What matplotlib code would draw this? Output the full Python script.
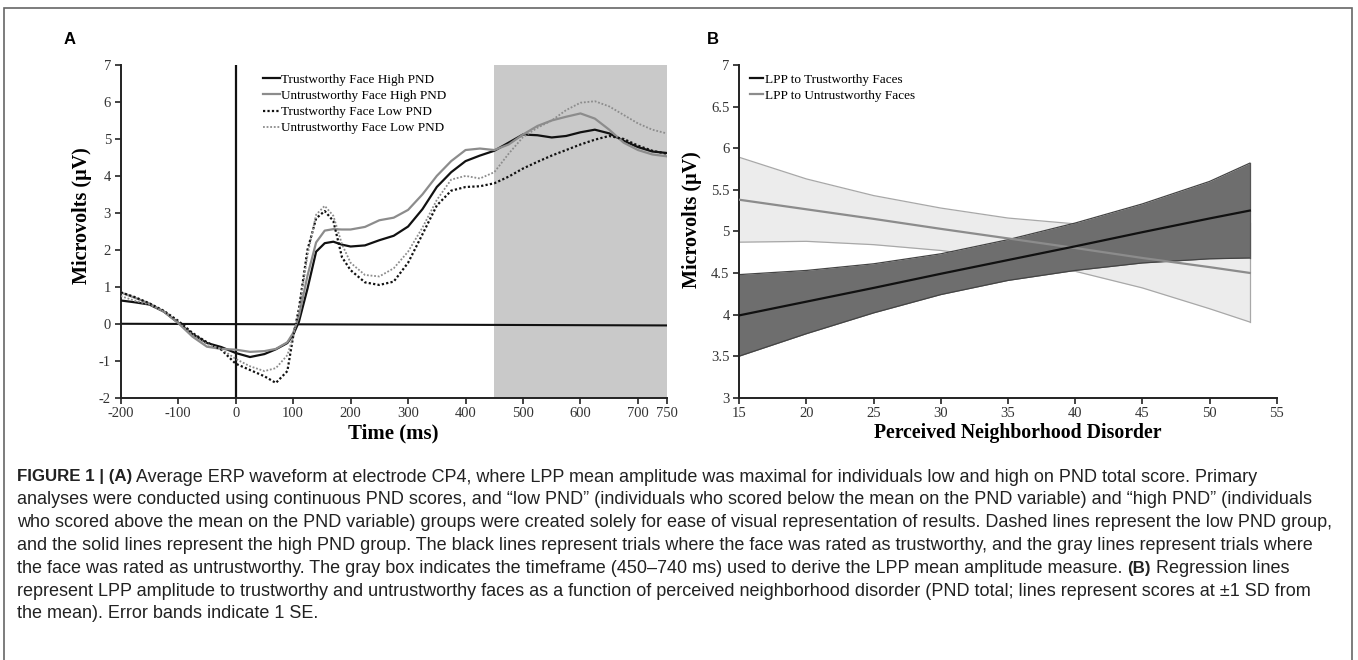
import matplotlib
matplotlib.use("Agg")
import matplotlib.pyplot as plt
from matplotlib.patches import Rectangle

plt.rcParams['axes.unicode_minus'] = False
SERIF = "Liberation Serif"
SANS = "Liberation Sans"

# ---------------- Panel A data (ERP waveforms) ----------------
time_ms = [-200, -175, -150, -125, -100, -75, -50, -25, 0, 25, 50, 70, 90, 100, 110,
           125, 140, 155, 170, 185, 200, 225, 250, 275, 300, 325, 350, 375, 400, 425,
           450, 475, 500, 525, 550, 575, 600, 625, 650, 675, 700, 725, 750]

trust_high = [0.63, 0.58, 0.52, 0.33, 0.03, -0.28, -0.52, -0.63, -0.79, -0.90, -0.82, -0.69, -0.52, -0.30, 0.05,
              0.95, 1.95, 2.18, 2.22, 2.14, 2.09, 2.12, 2.26, 2.38, 2.63, 3.10, 3.70, 4.10, 4.40, 4.55,
              4.68, 4.90, 5.12, 5.10, 5.04, 5.08, 5.18, 5.25, 5.15, 4.95, 4.78, 4.66, 4.62]

untrust_high = [0.85, 0.70, 0.55, 0.33, 0.02, -0.35, -0.62, -0.68, -0.70, -0.76, -0.74, -0.68, -0.50, -0.25, 0.20,
                1.30, 2.20, 2.52, 2.56, 2.55, 2.55, 2.62, 2.80, 2.87, 3.08, 3.50, 4.00, 4.40, 4.70, 4.74,
                4.70, 4.85, 5.12, 5.35, 5.50, 5.60, 5.69, 5.55, 5.25, 4.90, 4.70, 4.58, 4.53]

trust_low = [0.85, 0.72, 0.55, 0.35, 0.08, -0.25, -0.50, -0.70, -1.08, -1.25, -1.42, -1.60, -1.28, -0.35, 0.40,
             2.00, 2.85, 3.05, 2.78, 1.80, 1.45, 1.12, 1.05, 1.14, 1.65, 2.42, 3.20, 3.60, 3.70, 3.72,
             3.80, 3.98, 4.20, 4.38, 4.55, 4.70, 4.85, 4.98, 5.08, 5.00, 4.82, 4.68, 4.60]

untrust_low = [0.75, 0.62, 0.52, 0.33, 0.04, -0.30, -0.55, -0.68, -0.95, -1.15, -1.28, -1.20, -0.85, -0.35, 0.30,
               1.85, 2.95, 3.19, 2.92, 2.15, 1.65, 1.32, 1.28, 1.50, 1.95, 2.60, 3.35, 3.90, 4.00, 3.93,
               4.10, 4.60, 5.05, 5.30, 5.50, 5.78, 5.98, 6.02, 5.88, 5.65, 5.42, 5.25, 5.15]

series_labels_a = ["Trustworthy Face High PND", "Untrustworthy Face High PND",
                   "Trustworthy Face Low PND", "Untrustworthy Face Low PND"]
baseline_x = [-200, 750]
baseline_y = [0.0, -0.045]
lpp_window = [450, 750]
xticks_a = [-200, -100, 0, 100, 200, 300, 400, 500, 600, 700, 750]
yticks_a = [-2, -1, 0, 1, 2, 3, 4, 5, 6, 7]

# ---------------- Panel B data (regressions) ----------------
pnd = [15, 20, 25, 30, 35, 40, 45, 50, 53]
trust_fit = [3.99, 4.155, 4.32, 4.49, 4.655, 4.82, 4.99, 5.155, 5.25]
trust_upper = [4.48, 4.53, 4.61, 4.73, 4.90, 5.10, 5.33, 5.60, 5.82]
trust_lower = [3.50, 3.77, 4.02, 4.24, 4.41, 4.53, 4.62, 4.67, 4.68]
untrust_fit = [5.38, 5.265, 5.15, 5.03, 4.915, 4.80, 4.68, 4.57, 4.50]
untrust_upper = [5.89, 5.63, 5.43, 5.28, 5.16, 5.09, 5.08, 5.09, 5.10]
untrust_lower = [4.87, 4.88, 4.84, 4.77, 4.66, 4.52, 4.32, 4.07, 3.91]
series_labels_b = ["LPP to Trustworthy Faces", "LPP to Untrustworthy Faces"]
xticks_b = [15, 20, 25, 30, 35, 40, 45, 50, 55]
yticks_b = [3, 3.5, 4, 4.5, 5, 5.5, 6, 6.5, 7]
ytick_labels_b = ["3", "3.5", "4", "4.5", "5", "5.5", "6", "6.5", "7"]

caption_lines = [
    [("FIGURE 1 | (A)", True), (" Average ERP waveform at electrode CP4, where LPP mean amplitude was maximal for individuals low and high on PND total score. Primary", False)],
    [("analyses were conducted using continuous PND scores, and \u201clow PND\u201d (individuals who scored below the mean on the PND variable) and \u201chigh PND\u201d (individuals", False)],
    [("who scored above the mean on the PND variable) groups were created solely for ease of visual representation of results. Dashed lines represent the low PND group,", False)],
    [("and the solid lines represent the high PND group. The black lines represent trials where the face was rated as trustworthy, and the gray lines represent trials where", False)],
    [("the face was rated as untrustworthy. The gray box indicates the timeframe (450\u2013740 ms) used to derive the LPP mean amplitude measure. ", False), ("(B)", True), (" Regression lines", False)],
    [("represent LPP amplitude to trustworthy and untrustworthy faces as a function of perceived neighborhood disorder (PND total; lines represent scores at \u00b11 SD from", False)],
    [("the mean). Error bands indicate 1 SE.", False)],
]

W, H = 1358, 660
fig = plt.figure(figsize=(W / 100, H / 100), dpi=100)
fig.patch.set_facecolor("white")

# frame around figure
fig.patches.append(Rectangle((4 / W, -0.02), 1348 / W, (H - 8) / H + 0.02, transform=fig.transFigure,
                             fill=False, edgecolor="#666666", linewidth=1.2))


def style_axes(ax):
    for s in ["top", "right"]:
        ax.spines[s].set_visible(False)
    for s in ["left", "bottom"]:
        ax.spines[s].set_linewidth(1.4)
        ax.spines[s].set_color("#222222")
    ax.tick_params(direction="out", length=4, width=1.2, color="#222222",
                   labelsize=10.5, labelcolor="#333333", pad=3)
    for lab in ax.get_xticklabels() + ax.get_yticklabels():
        lab.set_fontfamily(SERIF)


# ---------------- Panel A ----------------
axA = fig.add_axes([120.7 / W, 1 - 397.7 / H, (666.7 - 120.7) / W, (397.7 - 65) / H])
axA.axvspan(lpp_window[0], lpp_window[1], color="#c9c9c9", lw=0, zorder=0)
axA.plot(baseline_x, baseline_y, color="#111111", lw=1.5, zorder=1)
axA.axvline(0, color="#111111", lw=1.6, zorder=1)
axA.plot(time_ms, trust_high, color="#111111", lw=1.6, label=series_labels_a[0], zorder=3)
axA.plot(time_ms, untrust_high, color="#8c8c8c", lw=1.6, label=series_labels_a[1], zorder=3)
axA.plot(time_ms, trust_low, color="#111111", lw=1.6, ls=(0, (1, 1)), label=series_labels_a[2], zorder=3)
axA.plot(time_ms, untrust_low, color="#8c8c8c", lw=1.3, ls=(0, (1, 1)), label=series_labels_a[3], zorder=3)
axA.set_xlim(-200, 750)
axA.set_ylim(-2, 7)
axA.set_xticks(xticks_a)
axA.set_yticks(yticks_a)
style_axes(axA)
axA.set_xlabel("Time (ms)", fontfamily=SERIF, fontweight="bold", fontsize=15, labelpad=2)
axA.set_ylabel("Microvolts (\u03bcV)", fontfamily=SERIF, fontweight="bold", fontsize=14.5)
axA.yaxis.set_label_coords(-0.053, 0.546)
legA = axA.legend(loc="upper left", bbox_to_anchor=(0.251, 0.99), frameon=False,
                  prop={"family": SERIF, "size": 9.5}, handlelength=1.25, handletextpad=0.12,
                  labelspacing=0.3, borderaxespad=0)

# ---------------- Panel B ----------------
axB = fig.add_axes([739.3 / W, 1 - 397.7 / H, (1276.7 - 739.3) / W, (397.7 - 65) / H])
axB.fill_between(pnd, untrust_lower, untrust_upper, color="#ececec", lw=0, zorder=1)
axB.plot(pnd, untrust_upper, color="#a8a8a8", lw=0.9, zorder=1.5)
axB.plot(pnd, untrust_lower, color="#a8a8a8", lw=0.9, zorder=1.5)
axB.plot([pnd[-1], pnd[-1]], [untrust_lower[-1], untrust_upper[-1]], color="#a8a8a8", lw=0.9, zorder=1.5)
axB.fill_between(pnd, trust_lower, trust_upper, color="#6e6e6e", lw=0, zorder=2)
axB.plot(pnd, trust_upper, color="#444444", lw=0.9, zorder=2.5)
axB.plot(pnd, trust_lower, color="#444444", lw=0.9, zorder=2.5)
axB.plot([pnd[-1], pnd[-1]], [trust_lower[-1], trust_upper[-1]], color="#555555", lw=0.9, zorder=2.5)
axB.plot(pnd, trust_fit, color="#111111", lw=1.6, label=series_labels_b[0], zorder=4)
axB.plot(pnd, untrust_fit, color="#8c8c8c", lw=1.6, label=series_labels_b[1], zorder=3.5)
axB.set_xlim(15, 55)
axB.set_ylim(3, 7)
axB.set_xticks(xticks_b)
axB.set_yticks(yticks_b)
axB.set_yticklabels(ytick_labels_b)
style_axes(axB)
axB.set_xlabel("Perceived Neighborhood Disorder", fontfamily=SERIF, fontweight="bold", fontsize=14.2)
axB.xaxis.set_label_coords(0.519, -0.075)
axB.set_ylabel("Microvolts (\u03bcV)", fontfamily=SERIF, fontweight="bold", fontsize=14.5)
axB.yaxis.set_label_coords(-0.069, 0.536)
legB = axB.legend(loc="upper left", bbox_to_anchor=(0.011, 0.99), frameon=False,
                  prop={"family": SERIF, "size": 9.5}, handlelength=0.95, handletextpad=0.12,
                  labelspacing=0.3, borderaxespad=0)

# panel letters
fig.text(64 / W, 1 - 40 / H, "A", fontfamily=SANS, fontweight="bold", fontsize=12, va="center", ha="left")
fig.text(707 / W, 1 - 40 / H, "B", fontfamily=SANS, fontweight="bold", fontsize=12, va="center", ha="left")

# caption with mixed bold / regular runs
fig.canvas.draw()
renderer = fig.canvas.get_renderer()
cap_size = 13.0
x0 = 17
y_first = 477
spacing = 22.8
for i, line in enumerate(caption_lines):
    x = x0
    y = 1 - (y_first + i * spacing) / H
    for txt, bold in line:
        t = fig.text(x / W, y, txt, fontfamily=SANS, fontweight="bold" if bold else "normal",
                     fontsize=cap_size - (0.8 if bold else 0), color="#222222", va="center", ha="left")
        bb = t.get_window_extent(renderer=renderer)
        x = bb.x1

fig.savefig("out.png", dpi=100, facecolor="white")
